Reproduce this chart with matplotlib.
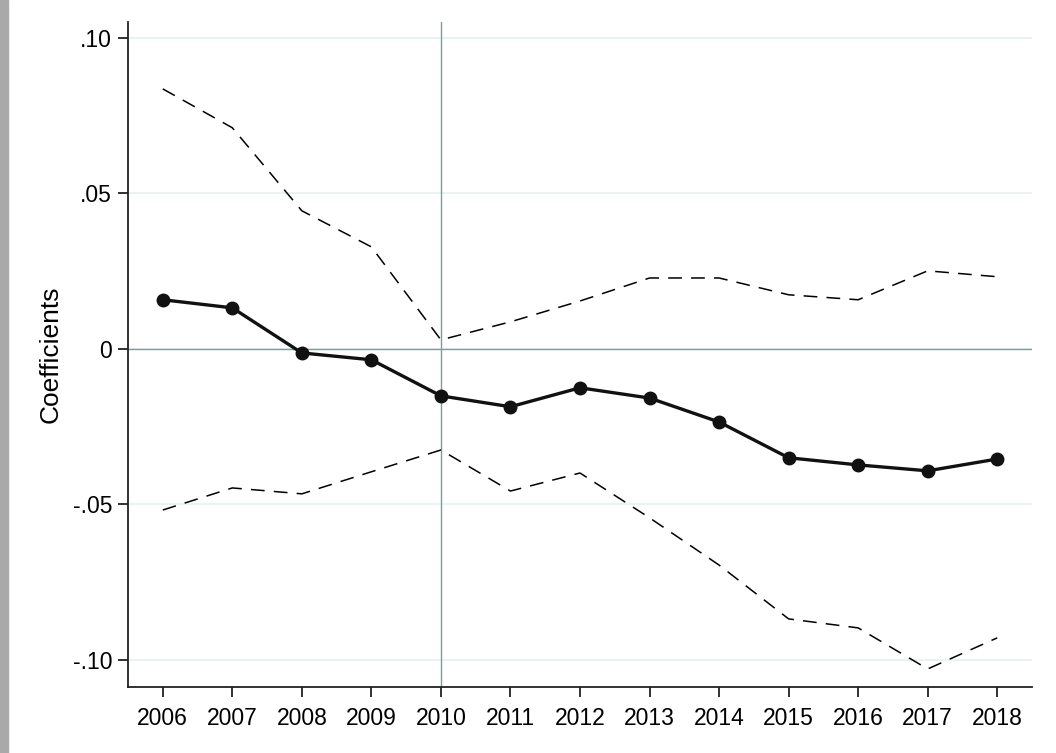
import matplotlib
matplotlib.use("Agg")
import matplotlib.pyplot as plt
from matplotlib.patches import Rectangle

plt.rcParams['font.family'] = ['Liberation Sans', 'DejaVu Sans']

years = [2006, 2007, 2008, 2009, 2010, 2011, 2012, 2013, 2014, 2015, 2016, 2017, 2018]
coef = [0.0158, 0.0132, -0.0013, -0.0035, -0.0151, -0.0186, -0.0125, -0.0158,
        -0.0235, -0.0350, -0.0373, -0.0392, -0.0354]
upper = [0.0836, 0.0711, 0.0444, 0.0328, 0.0029, 0.0087, 0.0154, 0.0228,
         0.0228, 0.0174, 0.0158, 0.0251, 0.0232]
lower = [-0.0518, -0.0447, -0.0466, -0.0395, -0.0325, -0.0457, -0.0399, -0.0543,
         -0.0695, -0.0868, -0.0897, -0.1029, -0.0929]
yticks = [-0.10, -0.05, 0.0, 0.05, 0.10]
ytick_labels = ["-.10", "-.05", "0", ".05", ".10"]

fig = plt.figure(figsize=(10.56, 7.53), dpi=100)
# grey strip on the left edge
fig.patches.append(Rectangle((0, 0), 8 / 1056, 1, transform=fig.transFigure,
                             color="#a9a9a9", zorder=0))
ax = fig.add_axes([128 / 1056, 1 - 687 / 753, (1032 - 128) / 1056, (687 - 22) / 753])

for t in yticks:
    ax.axhline(t, color="#eaf2f3", lw=1.5, zorder=0)
ax.axhline(0, color="#7f9c9c", lw=1.0, zorder=1)
ax.axvline(2010, color="#7f9c9c", lw=1.0, zorder=1)

ax.plot(years, upper, color="black", lw=1.1, dashes=(9, 6), zorder=2)
ax.plot(years, lower, color="black", lw=1.1, dashes=(9, 6), zorder=2)
ax.plot(years, coef, color="#111111", lw=2.4, marker="o", ms=9, zorder=3)

ax.set_xlim(2005.5, 2018.5)
ax.set_ylim(-0.1087, 0.1051)
ax.set_xticks(years)
ax.set_xticklabels([str(y) for y in years])
ax.set_yticks(yticks)
ax.set_yticklabels(ytick_labels)
ax.tick_params(labelsize=16.5, length=7.5, width=1.3, color="#222222")
ax.tick_params(axis="y", pad=4)
ax.tick_params(axis="x", pad=7)
ax.set_ylabel("Coefficients", fontsize=19, labelpad=7)

for s in ["top", "right"]:
    ax.spines[s].set_visible(False)
for s in ["left", "bottom"]:
    ax.spines[s].set_linewidth(1.3)
    ax.spines[s].set_color("#222222")

fig.savefig("out.png", dpi=100)
